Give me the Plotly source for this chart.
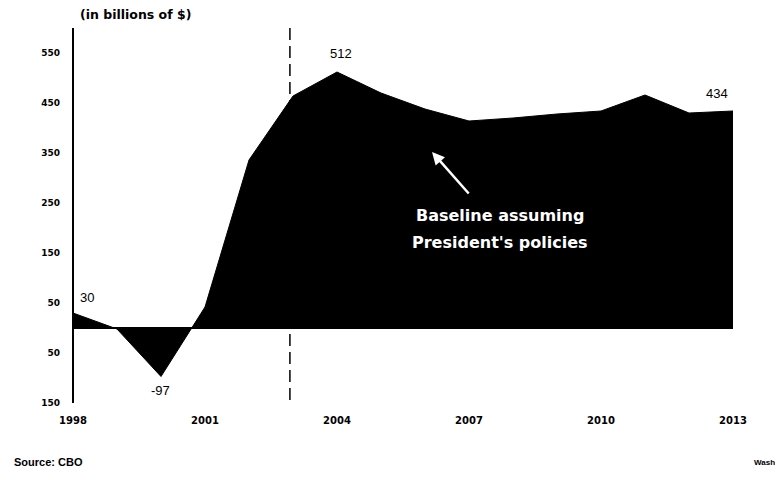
import plotly.graph_objects as go

years = list(range(1998, 2014))
values = [30, -2, -97, 42, 336, 464, 512, 470, 438, 414, 420, 428, 434, 466, 430, 434]

y_tick_vals = [550, 450, 350, 250, 150, 50, -50, -150]
y_tick_text = ["550", "450", "350", "250", "150", "50", "50", "150"]
x_tick_vals = [1998, 2001, 2004, 2007, 2010, 2013]
x_tick_text = ["1998", "2001", "2004", "2007", "2010", "2013"]

point_labels = [
    (1998.32, 62, "30"),
    (1999.98, -124, "-97"),
    (2004.1, 550, "512"),
    (2012.64, 470, "434"),
]
divider_year = 2002.93

fig = go.Figure()
fig.add_trace(go.Scatter(
    x=years, y=values, mode="lines", fill="tozeroy",
    line=dict(color="black", width=1), fillcolor="black",
    hoverinfo="skip", showlegend=False,
))

font_main = "Liberation Sans, Arial, sans-serif"
font_bold = "DejaVu Sans, sans-serif"

annotations = []
for x, y, t in point_labels:
    annotations.append(dict(x=x, y=y, text=t, showarrow=False,
                            font=dict(family=font_main, size=13, color="black")))

annotations += [
    dict(x=2007.7, y=226, text="<b>Baseline assuming</b>", showarrow=False,
         font=dict(family=font_bold, size=16, color="white")),
    dict(x=2007.7, y=172, text="<b>President's policies</b>", showarrow=False,
         font=dict(family=font_bold, size=16, color="white")),
    dict(x=2006.16, y=352, ax=38, ay=43, text="", showarrow=True,
         arrowhead=2, arrowsize=1, arrowwidth=2.5, arrowcolor="white"),
    dict(x=0.008, y=1.035, xref="paper", yref="paper", xanchor="left", yanchor="middle",
         text="<b>(in billions of $)</b>", showarrow=False,
         font=dict(family=font_bold, size=12.5, color="black")),
    dict(x=-0.092, y=-0.157, xref="paper", yref="paper", xanchor="left",
         yanchor="middle", text="<b>Source: CBO</b>", showarrow=False,
         font=dict(family=font_main, size=11, color="black")),
    dict(x=1.029, y=-0.16, xref="paper", yref="paper", xanchor="left",
         yanchor="middle", text="<b>Wash</b>", showarrow=False,
         font=dict(family=font_main, size=8, color="black")),
]

fig.update_layout(
    width=783, height=489,
    margin=dict(l=65, r=58, t=20, b=94),
    paper_bgcolor="white", plot_bgcolor="white",
    annotations=annotations,
    shapes=[
        dict(type="line", xref="x", yref="paper", x0=divider_year, x1=divider_year,
             y0=0.008, y1=1.016, line=dict(color="black", width=1.5, dash="12px,6px")),
        dict(type="line", xref="paper", yref="paper", x0=0, x1=0, y0=0, y1=1,
             line=dict(color="black", width=2)),
    ],
    xaxis=dict(range=[1998, 2013], tickvals=x_tick_vals, ticktext=x_tick_text,
               showgrid=False, zeroline=False, showline=False, ticks="",
               tickfont=dict(family=font_bold, size=10, color="black", weight="bold"),
               ticklabelstandoff=10, fixedrange=True),
    yaxis=dict(range=[-150, 600], tickvals=y_tick_vals, ticktext=y_tick_text,
               showgrid=False, zeroline=True, zerolinecolor="black", zerolinewidth=1.5,
               showline=False, ticks="",
               tickfont=dict(family=font_bold, size=9, color="black", weight="bold"),
               ticklabelstandoff=12, fixedrange=True),
)

fig.write_html("out.html")
